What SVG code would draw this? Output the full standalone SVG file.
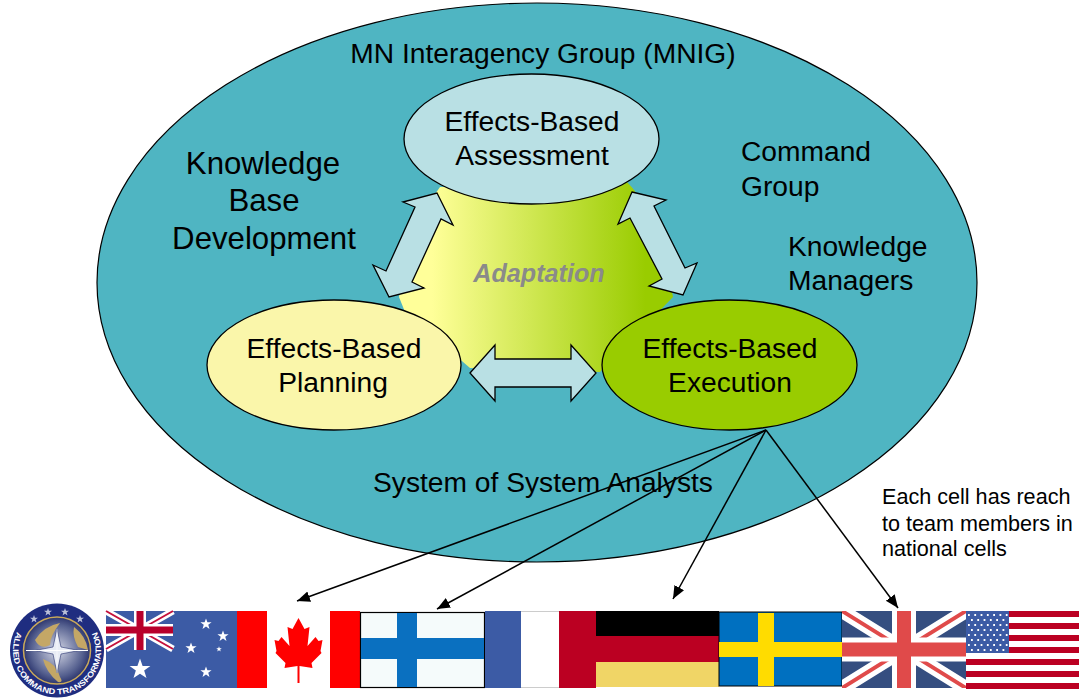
<svg xmlns="http://www.w3.org/2000/svg" width="1079" height="698" viewBox="0 0 1079 698">
<style>
text{font-family:"Liberation Sans",Arial,sans-serif;fill:#000}
.l{font-size:28.2px}
.m{font-size:28.2px;text-anchor:middle}
.k{font-size:31.2px;text-anchor:middle}
.s{font-size:21.6px}
.e{stroke:#000;stroke-width:1.3}
.a{fill:#b9e0e4;stroke:#000;stroke-width:1.3;stroke-linejoin:miter}
.c{fill:none;stroke:#000;stroke-width:1.5;marker-end:url(#ah)}
</style>
<defs>
<marker id="ah" markerUnits="userSpaceOnUse" markerWidth="14" markerHeight="12" refX="13" refY="5.5" orient="auto"><path d="M0 0L13 5.5L0 11Z" fill="#000"/></marker>
<linearGradient id="g" gradientUnits="userSpaceOnUse" x1="399" y1="0" x2="673" y2="0"><stop offset="0.12" stop-color="#ffff99"/><stop offset="0.9" stop-color="#99cc00"/></linearGradient>
<radialGradient id="gl" cx="0.5" cy="0.5" r="0.55"><stop offset="0" stop-color="#d5d8e6"/><stop offset="0.7" stop-color="#55608f"/><stop offset="1" stop-color="#1b2360"/></radialGradient>
<path id="arc" d="M18 630A44 44 0 1 0 96 630" fill="none"/>
<path id="star" d="M0-4L1-1.2L4-1.2L1.6 .6L2.500 3.500L0 1.800L-2.500 3.500L-1.600 .6L-4-1.200L-1-1.200Z"/>
</defs>
<g id="outer"><ellipse cx="537" cy="282.500" rx="440" ry="279.500" fill="#4fb5c2" stroke="#000" stroke-width="1.2"/>
<text class="m" x="543" y="63">MN Interagency Group (MNIG)</text>
<text class="k" x="263" y="174">Knowledge</text><text class="k" x="264" y="211">Base</text><text class="k" x="264" y="249">Development</text>
<text class="l" x="741" y="161">Command</text><text class="l" x="741" y="196">Group</text>
<text class="l" x="788" y="256">Knowledge</text><text class="l" x="788" y="290">Managers</text>
<text class="l" x="373" y="492">System of System Analysts</text></g>
<g id="adaptation"><path d="M440 187L627 182Q659 214 673 297L600 372L470 368L405 312L399 297Q412 225 440 187Z" fill="url(#g)"/>
<text x="539" y="282" text-anchor="middle" font-size="25.200" font-weight="bold" font-style="italic" style="fill:#8a8a8a">Adaptation</text></g>
<g id="assessment"><ellipse class="e" cx="531.500" cy="139" rx="127.500" ry="65" fill="#b9e0e4"/><text class="m" x="532" y="131">Effects-Based</text><text class="m" x="532" y="165">Assessment</text></g>
<g id="planning"><ellipse class="e" cx="334" cy="365" rx="127" ry="65" fill="#faf6aa"/><text class="m" x="334" y="358">Effects-Based</text><text class="m" x="333" y="392">Planning</text></g>
<g id="execution"><ellipse class="e" cx="729.500" cy="365" rx="127.500" ry="65" fill="#99cc00"/><text class="m" x="730" y="358">Effects-Based</text><text class="m" x="730" y="392">Execution</text></g>
<g id="double-arrows">
<polygon class="a" points="437,193 453,225 441,219 412,282 424,288 389,297 373,265 386,271 415,207 403,202"/>
<polygon class="a" points="632,192 666,200 654,206 685,268 697,263 683,295 649,286 662,279 630,218 618,224"/>
<polygon class="a" points="470,373 495,345 495,359 571,359 571,345 596,373 571,401 571,387 495,387 495,401"/>
</g>
<g id="connectors">
<line class="c" x1="766" y1="430" x2="297" y2="601"/>
<line class="c" x1="766" y1="430" x2="437" y2="609"/>
<line class="c" x1="766" y1="430" x2="673" y2="599"/>
<line class="c" x1="766" y1="430" x2="898" y2="608"/>
</g>
<g id="note"><text class="s" x="882" y="504">Each cell has reach</text><text class="s" x="882" y="531">to team members in</text><text class="s" x="882" y="556">national cells</text></g>
<g id="logo">
<circle cx="57" cy="650.500" r="47" fill="#1f2d80"/>
<circle cx="57" cy="650.500" r="33.500" fill="url(#gl)" stroke="#c9a95a" stroke-width="1.500"/>
<path d="M35 640Q44 626 60 623Q50 636 50 645Q40 650 35 640ZM74 627Q86 636 88 650L78 647Q72 636 74 627ZM43 659Q57 664 60 677Q64 683 58 682Q46 672 43 659Z" fill="#c4a766"/>
<polygon points="57,629 61,647 79,650.500 61,654 57,673 53,654 35,650.500 53,647" fill="#e8ecf5" stroke="#26306e" stroke-width=".6"/>
<path d="M26 650.500H88" stroke="#fff" stroke-width="1"/>
<path d="M57 629V673" stroke="#fff" stroke-width=".6"/>
<g fill="#b9bfd8"><use href="#star" x="34" y="619"/><use href="#star" x="48" y="612"/><use href="#star" x="65" y="612"/><use href="#star" x="80" y="619"/></g>
<text font-size="8" font-weight="bold" style="fill:#fff"><textPath href="#arc" startOffset="50%" text-anchor="middle" textLength="176" lengthAdjust="spacingAndGlyphs">ALLIED COMMAND TRANSFORMATION</textPath></text>
</g>
<g id="flag-australia"><rect x="106" y="611" width="131" height="77" fill="#3c5ba5"/>
<path d="M106 611L173 649M173 611L106 649" stroke="#fff" stroke-width="7"/><path d="M106 611L173 649M173 611L106 649" stroke="#c4113c" stroke-width="2"/>
<path d="M140 611V650M106 630H173" stroke="#fff" stroke-width="12"/><path d="M140 611V650M106 630H173" stroke="#b8002b" stroke-width="7"/>
<g fill="#fff"><use href="#star" transform="translate(140 669) scale(2.600)"/><use href="#star" transform="translate(206 624) scale(1.400)"/><use href="#star" transform="translate(223 636) scale(1.400)"/><use href="#star" transform="translate(191 648) scale(1.400)"/><use href="#star" transform="translate(219 649) scale(.7)"/><use href="#star" transform="translate(206 672) scale(1.400)"/></g></g>
<g id="flag-canada"><rect x="237" y="611" width="123" height="77" fill="#fff"/><rect x="237" y="611" width="30" height="77" fill="#f00"/><rect x="330" y="611" width="30" height="77" fill="#f00"/>
<path d="M298.500 618L304.500 629L309.500 627L307.500 646L315.500 637L318.500 641L322.500 640L320.500 651L321.500 653L311.500 663L312.500 668L299.500 666V683H297.500V666L284.500 668L285.500 663L275.500 653L276.500 651L274.500 640L278.500 641L281.500 637L289.500 646L287.500 627L292.500 629Z" fill="#f00"/></g>
<g id="flag-finland"><rect x="360.500" y="612.500" width="124" height="75" fill="#f5fbfb" stroke="#000" stroke-width="1.200"/><rect x="397" y="613" width="20" height="74" fill="#0a70c0"/><rect x="361" y="638" width="123" height="21" fill="#0a70c0"/></g>
<g id="flag-france"><rect x="485" y="611" width="36" height="77" fill="#3c5ba5"/><rect x="521" y="611" width="38" height="77" fill="#fff"/><rect x="559" y="611" width="37" height="77" fill="#bb0022"/><path d="M521 611.500H559M521 687.500H559" stroke="#ccc"/></g>
<g id="flag-germany"><rect x="596" y="611" width="123" height="25" fill="#000"/><rect x="596" y="636" width="123" height="26" fill="#bb0022"/><rect x="596" y="662" width="123" height="25" fill="#f0d566"/></g>
<g id="flag-sweden"><rect x="719" y="612" width="123" height="74" fill="#0070c0" stroke="#000" stroke-width="1"/><rect x="758" y="613" width="16" height="73" fill="#ffdc00"/><rect x="719" y="642" width="123" height="15" fill="#ffdc00"/></g>
<g id="flag-uk"><svg x="842" y="611" width="124" height="77" viewBox="0 0 124 77"><rect width="124" height="77" fill="#354e80"/>
<path d="M0 0L124 77M124 0L0 77" stroke="#fff" stroke-width="14"/><path d="M0 0L124 77M124 0L0 77" stroke="#e04a4a" stroke-width="4"/>
<path d="M62 0V77M0 38.500H124" stroke="#fff" stroke-width="24"/><path d="M62 0V77M0 38.500H124" stroke="#e04a4a" stroke-width="14"/></svg></g>
<g id="flag-usa"><rect x="966" y="611" width="113" height="78" fill="#fff"/>
<path d="M966 614H1079M966 626H1079M966 638H1079M966 650H1079M966 662H1079M966 674H1079M966 686H1079" stroke="#bb0022" stroke-width="6"/>
<rect x="966" y="611" width="43" height="42" fill="#3c5ba5"/>
<path d="M968 615H1008M971 620H1008M968 625H1008M971 630H1008M968 635H1008M971 640H1008M968 645H1008M971 650H1008" stroke="#fff" stroke-width="1.800" stroke-dasharray="1.800 4.500"/></g>
</svg>
